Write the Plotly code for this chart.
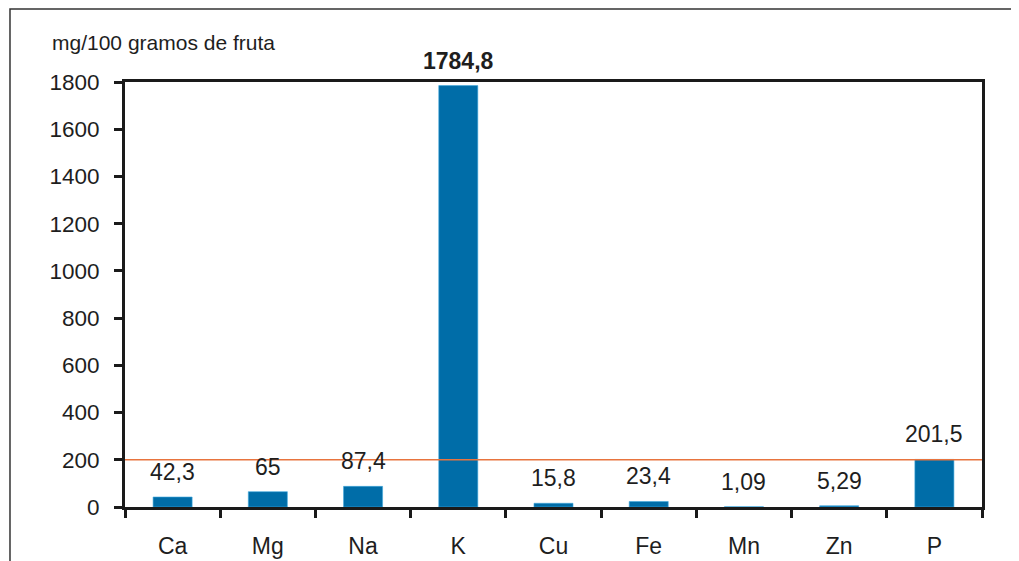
import plotly.graph_objects as go

categories = ["Ca", "Mg", "Na", "K", "Cu", "Fe", "Mn", "Zn", "P"]
values = [42.3, 65, 87.4, 1784.8, 15.8, 23.4, 1.09, 5.29, 201.5]
value_labels = ["42,3", "65", "87,4", "<b>1784,8</b>", "15,8", "23,4", "1,09", "5,29", "201,5"]
y_ticks = [0, 200, 400, 600, 800, 1000, 1200, 1400, 1600, 1800]
reference_line = 200
y_title = "mg/100 gramos de fruta"

FONT = "Liberation Sans, Arial, sans-serif"
TXT = "#1e1e1e"
AX = "#1a1a1a"

fig = go.Figure()
fig.add_trace(go.Bar(
    x=categories, y=values,
    marker=dict(color="#006da8", line=dict(color="#3fa7dd", width=0.6)),
    width=0.41,
    hoverinfo="x+y",
))

for c, v, t in zip(categories, values, value_labels):
    fig.add_annotation(x=c, y=v, text=t, showarrow=False, xref="x", yref="y",
                       yanchor="bottom", yshift=10,
                       font=dict(family=FONT, size=23, color=TXT))

fig.add_shape(type="line", xref="paper", yref="y", x0=0, x1=1,
              y0=reference_line, y1=reference_line,
              line=dict(color="#e8743e", width=1.6), layer="above")

# outer frame
fig.add_shape(type="rect", xref="paper", yref="paper",
              x0=-0.1342, x1=1.2, y0=-0.3, y1=1.1718,
              line=dict(color="#333333", width=1.5), layer="below")

fig.add_annotation(text=y_title, xref="paper", yref="paper",
                   x=-0.0875, y=1.0918, xanchor="left", yanchor="middle",
                   showarrow=False, font=dict(family=FONT, size=21, color=TXT))

fig.update_layout(
    width=1011, height=553,
    margin=dict(l=117, r=37, t=74, b=54),
    paper_bgcolor="white", plot_bgcolor="white",
    showlegend=False,
    font=dict(family=FONT, size=22, color=TXT),
)
fig.update_xaxes(
    showline=True, linecolor=AX, linewidth=3, mirror=True,
    ticks="outside", ticklen=8, tickwidth=3, tickcolor=AX,
    tickson="boundaries", showgrid=False, automargin=False,
    tickfont=dict(family=FONT, size=23, color=TXT), ticklabelstandoff=16,
)
fig.update_yaxes(
    range=[0, 1800], tickvals=y_ticks, ticktext=[str(v) for v in y_ticks],
    showline=True, linecolor=AX, linewidth=3, mirror=True,
    ticks="outside", ticklen=8, tickwidth=3, tickcolor=AX,
    showgrid=False, zeroline=False, ticklabelstandoff=10, automargin=False,
    tickfont=dict(family=FONT, size=22.5, color=TXT),
)

fig.write_html("out.html")
